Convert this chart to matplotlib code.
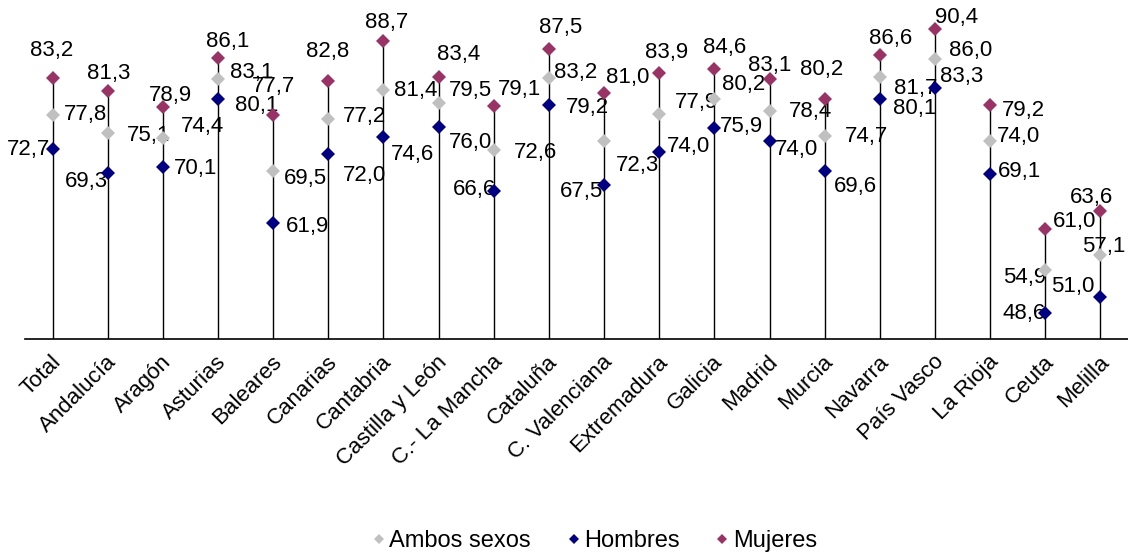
import numpy as np
import matplotlib.pyplot as plt
from matplotlib.lines import Line2D
import matplotlib.transforms as mtransforms

plt.rcParams['font.family'] = ['Liberation Sans', 'DejaVu Sans']

# Datos
comunidades = ["Total", "Andalucía", "Aragón", "Asturias", "Baleares", "Canarias",
               "Cantabria", "Castilla y León", "C.- La Mancha", "Cataluña",
               "C. Valenciana", "Extremadura", "Galicia", "Madrid", "Murcia",
               "Navarra", "País Vasco", "La Rioja", "Ceuta", "Melilla"]
ambos = [77.8, 75.1, 74.4, 83.1, 69.5, 77.2, 81.4, 79.5, 72.6, 83.2,
         74.0, 77.9, 80.2, 78.4, 74.7, 83.3, 86.0, 74.0, 54.9, 57.1]
hombres = [72.7, 69.3, 70.1, 80.1, 61.9, 72.0, 74.6, 76.0, 66.6, 79.2,
           67.5, 72.3, 75.9, 74.0, 69.6, 80.1, 81.7, 69.1, 48.6, 51.0]
mujeres = [83.2, 81.3, 78.9, 86.1, 77.7, 82.8, 88.7, 83.4, 79.1, 87.5,
           81.0, 83.9, 84.6, 83.1, 80.2, 86.6, 90.4, 79.2, 61.0, 63.6]

# Desplazamientos de las etiquetas (pixeles, dx, dy)
off_ambos = [(33, 0), (41, -2), (40, 11), (34, 6), (32, -7), (36, 2), (32, 0), (32, 13),
             (42, -2), (27, 6), (84, -6), (37, 12), (29, 14), (41, -1), (42, -1), (82, 1),
             (36, 9), (28, 4), (-21, -7), (3, 9)]
off_hombres = [(-24, 0), (-21, -9), (33, -1), (39, -6), (34, -4), (36, -21), (29, -18),
               (32, -15), (-19, 1), (39, -2), (-23, -7), (-22, -13), (27, 1), (27, -9),
               (31, -16), (35, -9), (-19, 0), (29, 2), (-21, 0), (-28, 10)]
off_mujeres = [(-1, 28), (1, 18), (8, 12), (10, 17), (0, 29), (-1, 29), (3, 18), (20, 22),
               (26, 16), (12, 21), (24, 16), (7, 21), (10, 21), (0, 13), (-3, 29), (11, 17),
               (22, 12), (33, -5), (29, 7), (-9, 14)]

color_ambos = "#C0C0C0"
color_hombres = "#000080"
color_mujeres = "#993366"
ymin, ymax = 44.8, 94.7

fig = plt.figure(figsize=(11.28, 5.58), dpi=100)
ax = fig.add_axes([25 / 1128, 219 / 558, 1103 / 1128, 339 / 558])

x = np.arange(len(comunidades))
tope = np.max([ambos, hombres, mujeres], axis=0)
ax.vlines(x, ymin, tope, color="black", linewidth=1.0, zorder=1)

series = [(ambos, color_ambos, off_ambos),
          (hombres, color_hombres, off_hombres),
          (mujeres, color_mujeres, off_mujeres)]
for valores, color, offs in series:
    ax.plot(x, valores, linestyle="none", marker="D", markersize=7.5,
            color=color, markeredgewidth=0, zorder=3)
    for i, v in enumerate(valores):
        ax.annotate(f"{v:.1f}".replace(".", ","), (x[i], v), xytext=offs[i],
                    textcoords="offset pixels", ha="center", va="center",
                    fontsize=16, color="black", zorder=2)

ax.set_xlim(-0.5, len(comunidades) - 0.5)
ax.set_ylim(ymin, ymax)
ax.set_yticks([])
ax.set_xticks(x)
ax.set_xticklabels(comunidades, rotation=45, ha="right", va="top",
                   rotation_mode="anchor", fontsize=16)
ax.tick_params(axis="x", length=0, pad=9)
desplaza = mtransforms.ScaledTranslation(-2 / 100, 0, fig.dpi_scale_trans)
for lbl in ax.get_xticklabels():
    lbl.set_transform(lbl.get_transform() + desplaza)

for lado in ["top", "right", "left"]:
    ax.spines[lado].set_visible(False)
ax.spines["bottom"].set_linewidth(1.2)

handles = [Line2D([], [], linestyle="none", marker="D", markersize=5, color=c, markeredgewidth=0)
           for c in [color_ambos, color_hombres, color_mujeres]]
fig.legend(handles, ["Ambos sexos", "Hombres", "Mujeres"], loc="center",
           bbox_to_anchor=(0.527, 17 / 558), ncol=3, frameon=False, fontsize=17,
           handlelength=0.6, handletextpad=0.15, columnspacing=1.5)

fig.savefig("out.png", dpi=100)
